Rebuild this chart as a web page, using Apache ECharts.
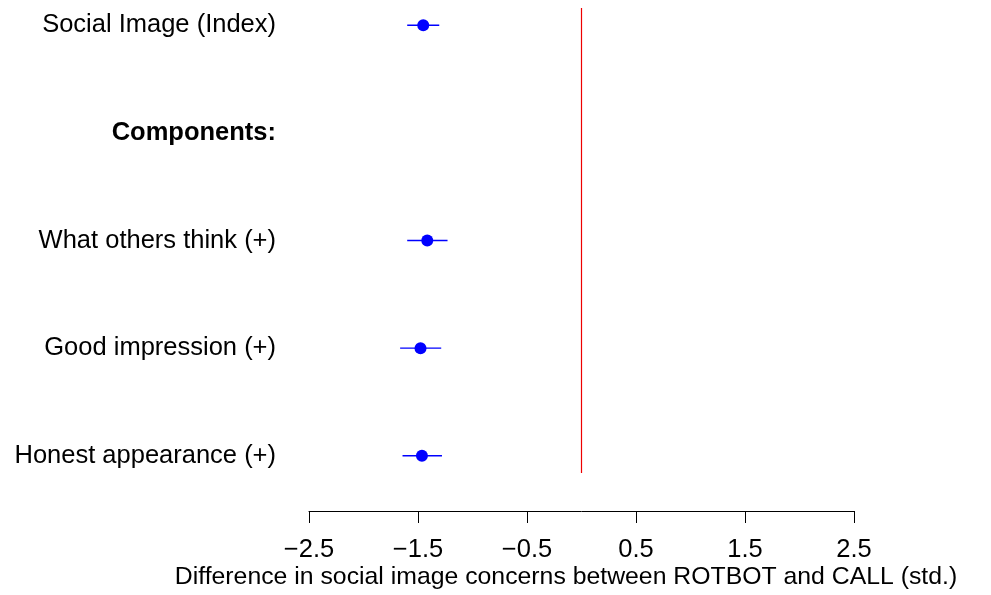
<!DOCTYPE html>
<html>
<head>
<meta charset="utf-8">
<script src="https://cdn.jsdelivr.net/npm/echarts@6/dist/echarts.min.js"></script>
<style>html,body{margin:0;padding:0;background:#fff;}#c{width:991px;height:595px;}</style>
</head>
<body>
<div id="c"></div>
<script>
// Rows from bottom (position 1) to top (position 5)
const labels = ['Honest appearance (+)', 'Good impression (+)', 'What others think (+)', 'Components:', 'Social Image (Index)'];
const estimates = [-1.464, -1.477, -1.415, null, -1.452];
const lower = [-1.642, -1.664, -1.599, null, -1.599];
const upper = [-1.280, -1.287, -1.229, null, -1.305];
const xTicks = [-2.5, -1.5, -0.5, 0.5, 1.5, 2.5];
const refValue = 0;
const xTitle = 'Difference in social image concerns between ROTBOT and CALL (std.)';

const FONT = '"Liberation Sans", Arial, Helvetica, sans-serif';
const FS = 25.5;
const Y_MIN = 0.84, Y_MAX = 5.16;
const positions = labels.map((_, i) => i + 1);
const pointData = [];
const ciData = [];
labels.forEach((l, i) => {
  if (estimates[i] !== null) {
    pointData.push([estimates[i], positions[i]]);
    ciData.push([lower[i], upper[i], positions[i]]);
  }
});

const chart = echarts.init(document.getElementById('c'), null, {renderer: 'canvas'});
chart.setOption({
  animation: false,
  backgroundColor: '#ffffff',
  grid: {left: 309, right: 137, top: 8, bottom: 122, containLabel: false},
  xAxis: {
    type: 'value', min: -2.5, max: 2.5,
    offset: 38,
    splitLine: {show: false},
    axisLine: {show: true, onZero: false, lineStyle: {color: '#000', width: 1}},
    axisTick: {show: true, length: 12, inside: false, customValues: xTicks, lineStyle: {color: '#000', width: 1}},
    axisLabel: {show: true, customValues: xTicks, margin: 26, color: '#000', fontSize: FS, fontFamily: FONT,
      formatter: v => (v < 0 ? '\u2212' + Math.abs(v).toFixed(1) : v.toFixed(1))}
  },
  yAxis: {
    type: 'value', min: Y_MIN, max: Y_MAX,
    splitLine: {show: false},
    axisLine: {show: false},
    axisTick: {show: false},
    axisLabel: {
      show: true, customValues: positions, margin: 33, color: '#000', fontSize: FS, fontFamily: FONT,
      formatter: v => {
        const t = labels[Math.round(v) - 1];
        return t === 'Components:' ? '{b|' + t + '}' : t;
      },
      rich: {b: {fontWeight: 'bold', fontSize: FS, fontFamily: FONT, color: '#000'}}
    }
  },
  graphic: [{
    type: 'text', x: 566, y: 577,
    style: {text: xTitle, font: '24.8px ' + FONT, fill: '#000', align: 'center', verticalAlign: 'middle'}
  }],
  series: [
    {
      type: 'line',
      data: [[refValue, Y_MIN], [refValue, Y_MAX]],
      showSymbol: false, symbol: 'none',
      lineStyle: {color: '#ee0000', width: 1.2, type: 'solid'},
      itemStyle: {color: '#ee0000'},
      silent: true,
      z: 1
    },
    {
      type: 'custom',
      data: ciData,
      renderItem: (params, api) => {
        const a = api.coord([api.value(0), api.value(2)]);
        const b = api.coord([api.value(1), api.value(2)]);
        return {type: 'line', shape: {x1: a[0], y1: a[1], x2: b[0], y2: b[1]},
          style: {stroke: '#0000ff', lineWidth: 1.4}};
      },
      encode: {x: [0, 1], y: 2},
      z: 2
    },
    {
      type: 'scatter',
      data: pointData,
      symbol: 'circle', symbolSize: 12,
      itemStyle: {color: '#0000ff', opacity: 1},
      z: 3
    }
  ]
});
</script>
</body>
</html>
